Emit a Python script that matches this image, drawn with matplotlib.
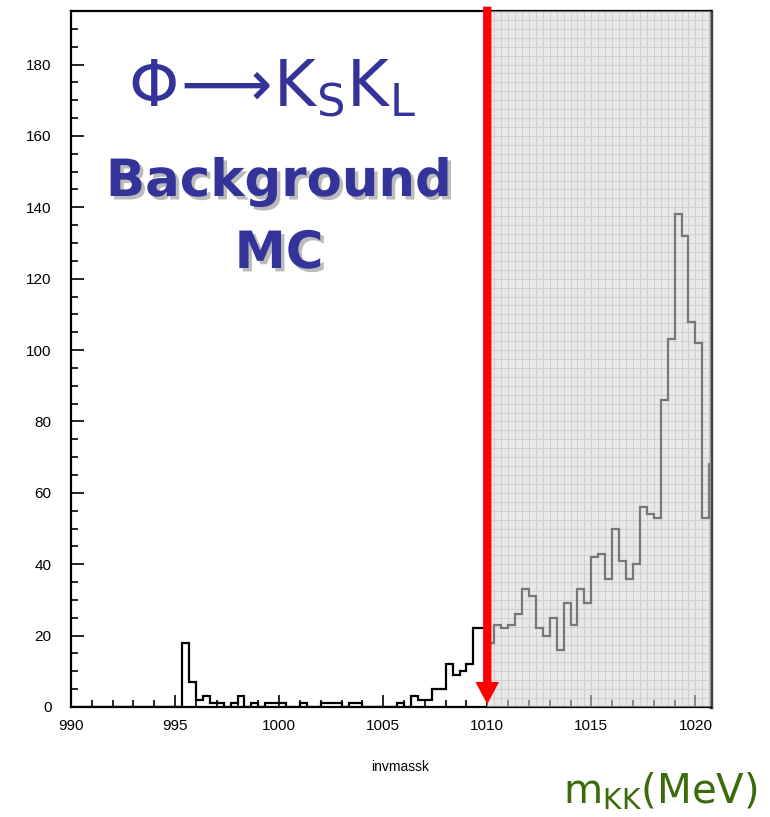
import numpy as np
import matplotlib.pyplot as plt
import matplotlib.patheffects as pe
from matplotlib.patches import FancyArrowPatch

plt.rcParams.update({
    "font.family": ["Liberation Sans Narrow", "Liberation Sans", "DejaVu Sans"],
    "mathtext.fontset": "dejavusans",
})

# --- data: m_KK histogram, 1/3 MeV bins from 990 to 1021 -------------------------------
m_lo, m_hi = 990.0, 1021.0
bin_width = 1.0 / 3.0
cut = 1010.0

counts_below_cut = [0] * 16 + [
    18, 7, 2, 3, 1, 1, 0, 1, 3, 0, 1, 0, 1, 1, 1, 0, 0, 1, 0, 0,
    1, 1, 1, 0, 1, 1, 0, 0, 0, 0, 0, 1, 0, 3, 2, 2, 5, 5, 12, 9,
    10, 12, 22, 22,
]
counts_above_cut = [
    18, 23, 22, 23, 26, 33, 31, 22, 20, 25, 16, 29, 23, 33, 29, 42, 43,
    36, 50, 41, 36, 40, 56, 54, 53, 86, 103, 138, 132, 108, 102, 53, 68,
]
counts = np.array(counts_below_cut + counts_above_cut, dtype=float)
edges = m_lo + bin_width * np.arange(len(counts) + 1)

x_ticks = [990, 995, 1000, 1005, 1010, 1015, 1020]
y_ticks = [0, 20, 40, 60, 80, 100, 120, 140, 160, 180]
y_max = 195

# --- plot -------------------------------------------------------------------------------
fig = plt.figure(figsize=(7.7, 8.17), dpi=100)
ax = fig.add_axes([71 / 770, 1 - 707 / 817, 640 / 770, 696 / 817])

ax.stairs(counts, edges, color="black", lw=1.6, zorder=2)

# shaded signal region with fine grid
grid_y = np.arange(0, y_max, 2.5)
ax.vlines(edges[edges >= cut], 0, y_max, color="#c8c8c8", lw=0.7, zorder=1)
ax.hlines(grid_y, cut, m_hi, color="#c8c8c8", lw=0.7, zorder=1)
ax.axvspan(cut, m_hi, color="#d6d6d6", alpha=0.56, lw=0, zorder=3)

# cut arrow
arrow = FancyArrowPatch((cut, y_max + 2), (cut, 0),
                        arrowstyle="simple,head_length=16,head_width=17,tail_width=6",
                        mutation_scale=1, color="#ff0000", lw=0, zorder=6,
                        clip_on=False)
ax.add_patch(arrow)

ax.set_xlim(m_lo, m_hi - 0.25)
ax.set_ylim(0, y_max)
ax.set_xticks(x_ticks)
ax.set_xticks(np.arange(990, 1021, 1), minor=True)
ax.set_yticks(y_ticks)
ax.set_yticks(np.arange(0, y_max, 5), minor=True)
ax.tick_params(which="major", direction="in", length=9, width=1.2, labelsize=11)
ax.tick_params(which="minor", direction="in", length=5, width=1.2)
ax.tick_params(axis="y", pad=14)
ax.tick_params(axis="x", pad=9)
for s in ax.spines.values():
    s.set_linewidth(1.6)
ax.spines["right"].set_color("#444444")
ax.spines["right"].set_linewidth(2.5)

fig.text(400 / 770, 1 - 767 / 817, "invmassk", ha="center", va="center", fontsize=10)

# annotations
shadow = [pe.withSimplePatchShadow(offset=(2.5, -2.5), shadow_rgbFace="#bbbbbb", alpha=1)]
blue = "#333399"
fig.text(272 / 770, 1 - 88 / 817, r"$\Phi\!\longrightarrow\!\mathrm{K_S K_L}$",
         ha="center", va="center", fontsize=46, color=blue, family="DejaVu Sans")
fig.text(279 / 770, 1 - 182 / 817, "Background", ha="center", va="center", fontsize=37,
         fontweight="bold", color=blue, family="DejaVu Sans", path_effects=shadow)
fig.text(279 / 770, 1 - 254 / 817, "MC", ha="center", va="center", fontsize=37,
         fontweight="bold", color=blue, family="DejaVu Sans", path_effects=shadow)
fig.text(660 / 770, 1 - 792 / 817, r"m$_{\mathrm{KK}}$(MeV)", ha="center", va="center",
         fontsize=29, color="#3d6b0a", family="DejaVu Sans")

fig.savefig("out.png", dpi=100)
